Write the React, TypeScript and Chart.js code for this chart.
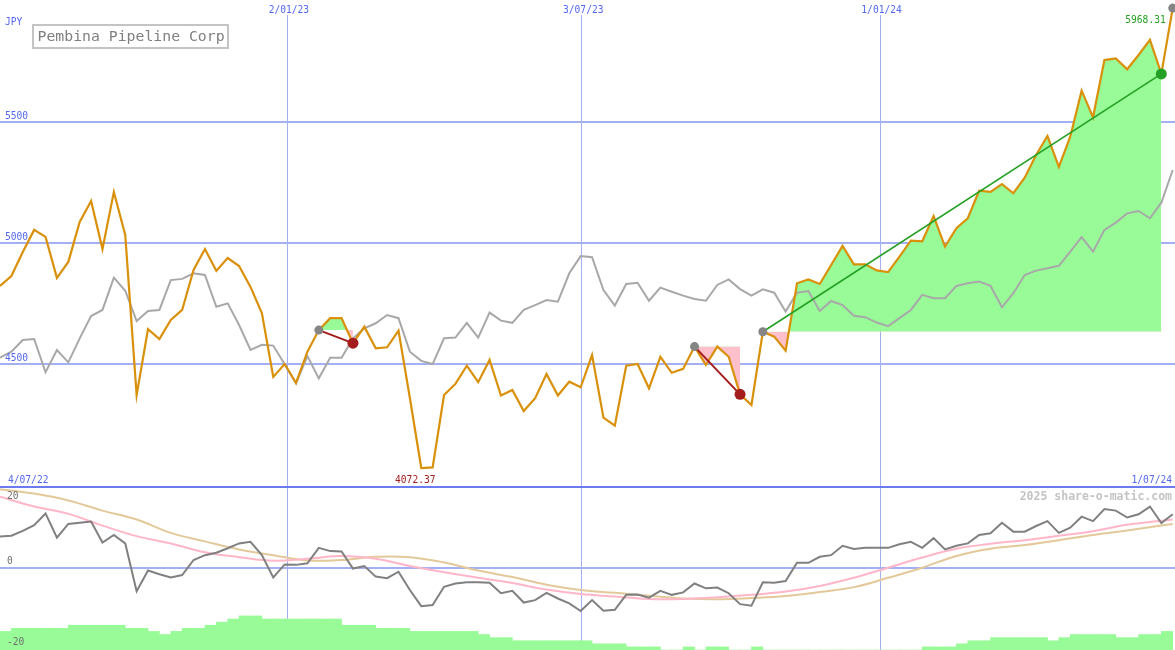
import React, { useEffect, useRef } from "react";
import { Chart, registerables } from "chart.js";

Chart.register(...registerables);

// ---------- data ----------
const title = "Pembina Pipeline Corp";
const currency = "JPY";

// weekly closing price (JPY), 104 weeks
const price = [
  4823, 4864, 4963, 5054, 5025, 4856, 4922, 5087, 5173, 4975,
  5210, 5033, 4373, 4645, 4604, 4683, 4724, 4889, 4975, 4885,
  4938, 4905, 4819, 4711, 4448, 4501, 4423, 4552, 4641, 4690,
  4690, 4587, 4655, 4566, 4570, 4639, 4361, 4072.37, 4075, 4373,
  4419, 4494, 4426, 4518, 4371, 4394, 4307, 4360, 4460, 4371,
  4428, 4405, 4538, 4280, 4247, 4494, 4501, 4401, 4531, 4465,
  4481, 4573, 4497, 4573, 4531, 4376, 4332, 4634, 4614, 4556,
  4834, 4850, 4831, 4909, 4988, 4912, 4912, 4887, 4880, 4944,
  5010, 5007, 5111, 4985, 5061, 5102, 5216, 5211, 5243, 5205,
  5269, 5363, 5441, 5314, 5438, 5628, 5518, 5754, 5761, 5716,
  5775, 5837, 5697, 5968.31,
];

// comparison index (rebased to JPY scale)
const compare = [
  4527, 4552, 4600, 4604, 4467, 4559, 4508, 4607, 4699, 4724,
  4857, 4803, 4678, 4720, 4724, 4847, 4852, 4875, 4868, 4737,
  4751, 4662, 4559, 4580, 4577, 4500, 4422, 4534, 4442, 4527,
  4527, 4607, 4648, 4669, 4703, 4690, 4552, 4514, 4501, 4607,
  4610, 4671, 4610, 4713, 4680, 4671, 4724, 4744, 4765, 4758,
  4875, 4946, 4941, 4806, 4742, 4831, 4836, 4762, 4816, 4799,
  4783, 4769, 4762, 4827, 4850, 4810, 4783, 4809, 4795, 4717,
  4795, 4802, 4720, 4761, 4744, 4700, 4694, 4672, 4657, 4690,
  4724, 4786, 4772, 4772, 4823, 4834, 4841, 4823, 4735, 4793,
  4868, 4886, 4896, 4906, 4964, 5024, 4964, 5054, 5084, 5122,
  5132, 5102, 5166, 5301,
];

// lower panel oscillator
const momentum = [
  7.7, 7.9, 9.1, 10.5, 13.4, 7.4, 10.8, 11.1, 11.4, 6.2,
  8.1, 6.0, -5.8, -0.7, -1.6, -2.4, -1.8, 1.9, 3.1, 3.7,
  4.8, 6.0, 6.4, 3.1, -2.4, 0.8, 0.7, 1.1, 4.9, 4.1,
  4.0, -0.2, 0.4, -2.2, -2.6, -1.0, -5.5, -9.5, -9.2, -4.7,
  -3.9, -3.6, -3.6, -3.7, -6.3, -5.7, -8.6, -8.0, -6.2, -7.6,
  -8.8, -10.7, -8.0, -10.6, -10.4, -6.7, -6.6, -7.4, -5.7, -6.7,
  -6.1, -3.9, -5.1, -4.9, -6.3, -9.0, -9.4, -3.6, -3.7, -3.3,
  1.2, 1.2, 2.7, 3.1, 5.4, 4.6, 4.9, 4.9, 4.9, 5.8,
  6.4, 4.9, 7.3, 4.5, 5.4, 6.0, 8.1, 8.5, 11.1, 8.9,
  8.9, 10.3, 11.5, 8.6, 9.9, 12.6, 11.5, 14.5, 14.1, 12.4,
  13.2, 15.1, 11.0, 13.2,
];

// moving averages of the oscillator, read every 3 weeks
const maWeeks = [
  0, 3, 6, 9, 12, 15, 18, 21, 24, 27, 30, 33, 36, 39, 42, 45, 48, 51,
  54, 57, 60, 63, 66, 69, 72, 75, 78, 81, 84, 87, 90, 93, 96, 99, 102, 103,
];
const maFast = [
  17.5, 15.1, 13.3, 10.4, 7.8, 6.0, 3.8, 2.6, 1.7, 2.2, 2.9, 2.2, 0.4, -1.1, -2.5, -3.8, -5.4, -6.5,
  -7.1, -7.7, -7.7, -7.3, -6.7, -5.9, -4.5, -2.5, 0.0, 2.5, 4.7, 5.9, 6.8, 7.9, 9.0, 10.6, 11.6, 11.9,
];
const maSlow = [
  19.4, 18.3, 16.6, 14.1, 11.9, 8.6, 6.5, 4.5, 3.1, 1.8, 1.9, 2.7, 2.6, 1.3, -0.7, -2.3, -4.2, -5.5,
  -6.2, -6.9, -7.6, -7.8, -7.5, -7.0, -6.0, -4.8, -2.5, 0.0, 2.9, 4.7, 5.6, 6.8, 8.1, 9.2, 10.4, 10.8,
];

// histogram levels, one per week interval
const histLevels = [
  6, 7, 7, 7, 7, 7, 8, 8, 8, 8, 8, 7, 7, 6, 5, 6, 7, 7, 8, 9,
  10, 11, 11, 10, 10, 10, 10, 10, 10, 10, 8, 8, 8, 7, 7, 7, 6, 6, 6, 6,
  6, 6, 5, 4, 4, 3, 3, 3, 3, 3, 3, 3, 2, 2, 2, 1, 1, 1, 0, 0,
  1, 0, 1, 1, 0, 0, 1, 0, 0, 0, 0, 0, 0, 0, 0, 0, 0, 0, 0, 0,
  0, 1, 1, 1, 2, 3, 3, 4, 4, 4, 4, 4, 3, 4, 5, 5, 5, 5, 4, 4,
  5, 5, 6,
];

// trades (week index)
const tradeEntries = [28, 61, 67];
const tradeExits = [31, 65, 102];

// axis ticks
const priceTicks = [4500, 5000, 5500];
const oscTicks = [20, 0, -20];
const dateLineWeeks = [25.2, 51.05, 77.25];
const dateLineLabels = ["2/01/23", "3/07/23", "1/01/24"];
const startLabel = "4/07/22";
const endLabel = "1/07/24";
const watermark = "2025 share-o-matic.com";

// ---------- styles ----------
const W = 1175;
const TOP_H = 488;
const BOT_H = 162;
const X_MAX = 103.2;
const GRID = "#a4b0f4";
const SEP = "#6c7cf0";
const TEXT_BLUE = "#5468f0";
const ORANGE = "#d9900a";
const GREY_TOP = "#a8a8a8";
const GREY_LOW = "#808080";
const PINK = "#ffb6c8";
const TAN = "#e3c99a";
const FILL_UP = "#98fb98";
const FILL_DOWN = "#ffc0cb";
const RED = "#a51c1c";
const GREEN = "#24a024";
const SMALL_FONT = '9.6px "DejaVu Sans Mono"';

const pts = (arr: number[], idx?: number[]) =>
  arr.map((v, i) => ({ x: idx ? idx[i] : i, y: v }));

export default function App() {
  const topRef = useRef<HTMLCanvasElement>(null);
  const botRef = useRef<HTMLCanvasElement>(null);

  useEffect(() => {
    const lastI = price.length - 1;
    let minI = 0;
    price.forEach((v, i) => {
      if (v < price[minI]) minI = i;
    });

    const fillSets: any[] = tradeEntries.map((s, k) => {
      const e = tradeExits[k];
      const seg = [];
      for (let i = s; i <= e; i++) seg.push({ x: i, y: price[i] });
      return {
        type: "line",
        data: seg,
        borderWidth: 0,
        borderColor: "rgba(0,0,0,0)",
        pointRadius: 0,
        fill: { target: { value: price[s] }, above: FILL_UP, below: FILL_DOWN },
        order: 20,
      };
    });

    const trendSets: any[] = tradeEntries.map((s, k) => {
      const e = tradeExits[k];
      const win = price[e] > price[s];
      return {
        type: "line",
        data: [
          { x: s, y: price[s] },
          { x: e, y: price[e] },
        ],
        borderColor: win ? GREEN : RED,
        borderWidth: win ? 1.6 : 2,
        pointRadius: 0,
        fill: false,
        order: 3,
      };
    });

    const entryDots = [...tradeEntries, lastI].map((i) => ({ x: i, y: price[i] }));
    const lossDots = tradeExits.filter((e, k) => price[e] <= price[tradeEntries[k]]).map((i) => ({ x: i, y: price[i] }));
    const winDots = tradeExits.filter((e, k) => price[e] > price[tradeEntries[k]]).map((i) => ({ x: i, y: price[i] }));

    const topDecor = {
      id: "topDecor",
      beforeDatasetsDraw(chart: any) {
        const { ctx, scales } = chart;
        const x = scales.x, y = scales.y;
        ctx.save();
        ctx.strokeStyle = GRID;
        ctx.lineWidth = 2;
        priceTicks.forEach((v) => {
          const py = Math.round(y.getPixelForValue(v));
          ctx.beginPath();
          ctx.moveTo(0, py);
          ctx.lineTo(chart.width, py);
          ctx.stroke();
        });
        ctx.lineWidth = 1;
        dateLineWeeks.forEach((d) => {
          const px = Math.round(x.getPixelForValue(d)) + 0.5;
          ctx.beginPath();
          ctx.moveTo(px, 15);
          ctx.lineTo(px, chart.height);
          ctx.stroke();
        });
        ctx.restore();
      },
      afterDraw(chart: any) {
        const { ctx, scales } = chart;
        const x = scales.x, y = scales.y;
        ctx.save();
        ctx.font = SMALL_FONT;
        ctx.fillStyle = TEXT_BLUE;
        ctx.textBaseline = "alphabetic";
        ctx.textAlign = "left";
        ctx.fillText(currency, 5, 25);
        priceTicks.forEach((v) => ctx.fillText(String(v), 5, y.getPixelForValue(v) - 3));
        ctx.textAlign = "center";
        dateLineWeeks.forEach((d, k) => ctx.fillText(dateLineLabels[k], x.getPixelForValue(d) + 2, 13));
        ctx.textAlign = "left";
        ctx.fillText(startLabel, 8, 483);
        ctx.textAlign = "right";
        ctx.fillText(endLabel, 1172, 483);
        ctx.fillStyle = RED;
        ctx.textAlign = "center";
        ctx.fillText(price[minI].toFixed(2), x.getPixelForValue(minI) - 6, 483);
        ctx.fillStyle = GREEN;
        ctx.textAlign = "right";
        ctx.fillText(price[lastI].toFixed(2), x.getPixelForValue(lastI) - 7, y.getPixelForValue(price[lastI]) + 15);
        // title box
        ctx.fillStyle = "#ffffff";
        ctx.fillRect(33, 25, 195, 23);
        ctx.strokeStyle = "#c4c4c4";
        ctx.lineWidth = 2;
        ctx.strokeRect(33, 25, 195, 23);
        ctx.font = '14.8px "DejaVu Sans Mono"';
        ctx.fillStyle = "#808080";
        ctx.textAlign = "left";
        ctx.fillText(title, 37.5, 41);
        // separator
        ctx.fillStyle = SEP;
        ctx.fillRect(0, chart.height - 2, chart.width, 2);
        ctx.restore();
      },
    };

    const botDecor = {
      id: "botDecor",
      beforeDatasetsDraw(chart: any) {
        const { ctx, scales } = chart;
        const x = scales.x, y = scales.y;
        ctx.save();
        ctx.strokeStyle = GRID;
        ctx.lineWidth = 2;
        const py = Math.round(y.getPixelForValue(0));
        ctx.beginPath();
        ctx.moveTo(0, py);
        ctx.lineTo(chart.width, py);
        ctx.stroke();
        ctx.lineWidth = 1;
        dateLineWeeks.forEach((d) => {
          const px = Math.round(x.getPixelForValue(d)) + 0.5;
          ctx.beginPath();
          ctx.moveTo(px, 0);
          ctx.lineTo(px, chart.height);
          ctx.stroke();
        });
        ctx.restore();
      },
      afterDraw(chart: any) {
        const { ctx, scales } = chart;
        const y = scales.y;
        ctx.save();
        ctx.font = SMALL_FONT;
        ctx.fillStyle = "#707070";
        ctx.textAlign = "left";
        ctx.textBaseline = "alphabetic";
        oscTicks.forEach((v) => {
          const by = Math.max(y.getPixelForValue(v) - 3.7, 11);
          ctx.fillText(String(v), 7, by);
        });
        ctx.font = 'bold 11.5px "DejaVu Sans Mono"';
        ctx.fillStyle = "#c4c4c4";
        ctx.textAlign = "right";
        ctx.fillText(watermark, 1172, 12);
        ctx.restore();
      },
    };

    const commonOptions = {
      responsive: false,
      animation: false,
      devicePixelRatio: 1,
      events: [],
      layout: { padding: 0, autoPadding: false },
      plugins: { legend: { display: false }, tooltip: { enabled: false } },
    };

    const top = new Chart(topRef.current as HTMLCanvasElement, {
      type: "line",
      data: {
        datasets: [
          ...fillSets,
          {
            data: pts(compare),
            borderColor: GREY_TOP,
            borderWidth: 2,
            pointRadius: 0,
            fill: false,
            order: 6,
          },
          {
            data: pts(price),
            borderColor: ORANGE,
            borderWidth: 2.2,
            pointRadius: 0,
            fill: false,
            order: 4,
          },
          ...trendSets,
          {
            data: entryDots,
            showLine: false,
            pointRadius: 4.5,
            pointBackgroundColor: "#858585",
            pointBorderWidth: 0,
            order: 1,
          },
          {
            data: lossDots,
            showLine: false,
            pointRadius: 5.5,
            pointBackgroundColor: RED,
            pointBorderWidth: 0,
            order: 1,
          },
          {
            data: winDots,
            showLine: false,
            pointRadius: 5.5,
            pointBackgroundColor: GREEN,
            pointBorderWidth: 0,
            order: 1,
          },
        ],
      } as any,
      options: {
        ...commonOptions,
        scales: {
          x: { type: "linear", min: 0, max: X_MAX, display: false, offset: false },
          y: { type: "linear", min: 3990, max: 6001.6, display: false },
        },
      } as any,
      plugins: [topDecor],
    });

    const bot = new Chart(botRef.current as HTMLCanvasElement, {
      type: "line",
      data: {
        datasets: [
          {
            type: "bar",
            data: histLevels.map((v, i) => ({ x: i + 0.5, y: v })),
            yAxisID: "yb",
            backgroundColor: FILL_UP,
            borderWidth: 0,
            barPercentage: 1,
            categoryPercentage: 1,
            order: 20,
          },
          {
            data: pts(maSlow, maWeeks),
            borderColor: TAN,
            borderWidth: 2,
            pointRadius: 0,
            tension: 0.4,
            fill: false,
            order: 6,
          },
          {
            data: pts(maFast, maWeeks),
            borderColor: PINK,
            borderWidth: 2,
            pointRadius: 0,
            tension: 0.4,
            fill: false,
            order: 5,
          },
          {
            data: pts(momentum),
            borderColor: GREY_LOW,
            borderWidth: 2,
            pointRadius: 0,
            fill: false,
            order: 3,
          },
        ],
      } as any,
      options: {
        ...commonOptions,
        scales: {
          x: { type: "linear", min: 0, max: X_MAX, display: false, offset: false },
          y: { type: "linear", min: -20.32, max: 19.68, display: false },
          yb: { type: "linear", min: 0, max: 52.3, display: false },
        },
      } as any,
      plugins: [botDecor],
    });

    return () => {
      top.destroy();
      bot.destroy();
    };
  }, []);

  return (
    <div style={{ position: "absolute", left: 0, top: 0, width: W, height: TOP_H + BOT_H, background: "#ffffff" }}>
      <canvas ref={topRef} width={W} height={TOP_H} style={{ position: "absolute", left: 0, top: 0, display: "block" }} />
      <canvas ref={botRef} width={W} height={BOT_H} style={{ position: "absolute", left: 0, top: TOP_H, display: "block" }} />
    </div>
  );
}
